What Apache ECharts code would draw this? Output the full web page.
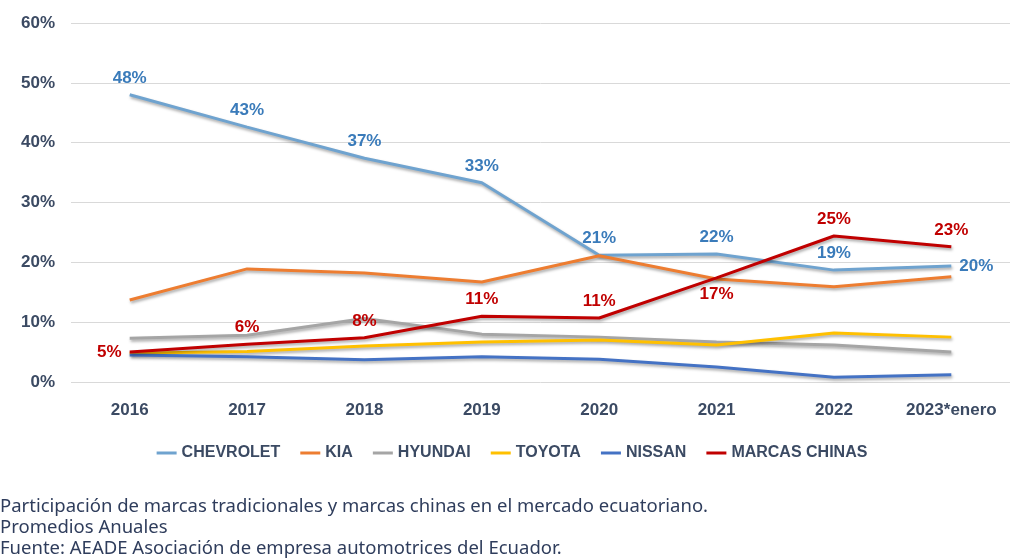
<!DOCTYPE html>
<html><head><meta charset="utf-8">
<script src="https://cdn.jsdelivr.net/npm/echarts@6/dist/echarts.min.js"></script>
<style>html,body{margin:0;padding:0;background:#fff}#c{width:1024px;height:558px}</style>
</head><body><div id="c"></div>
<script>
const categories = ['2016','2017','2018','2019','2020','2021','2022','2023*enero'];
const chevrolet = [48.0, 42.6, 37.4, 33.3, 21.2, 21.4, 18.7, 19.4];
const kia       = [13.7, 18.9, 18.2, 16.7, 21.1, 17.2, 15.9, 17.6];
const hyundai   = [7.3, 7.8, 10.6, 8.0, 7.5, 6.7, 6.2, 5.0];
const toyota    = [4.8, 5.1, 6.0, 6.7, 7.0, 6.2, 8.2, 7.5];
const nissan    = [4.5, 4.2, 3.7, 4.2, 3.8, 2.5, 0.8, 1.2];
const chinas    = [5.0, 6.3, 7.4, 11.0, 10.7, 17.4, 24.4, 22.6];
const chevroletLabels = ['48%','43%','37%','33%','21%','22%','19%','20%'];
const chinasLabels = ['5%','6%','8%','11%','11%','17%','25%','23%'];
const yTicks = [0,10,20,30,40,50,60];
const footer = ['Participación de marcas tradicionales y marcas chinas en el mercado ecuatoriano.','Promedios Anuales','Fuente: AEADE Asociación de empresa automotrices del Ecuador.'];

const navy = '#3B4A63';
const shadow = {shadowColor:'rgba(0,0,0,0.35)', shadowBlur:3, shadowOffsetX:1, shadowOffsetY:2};
function line(name, data, color, extra) {
  return Object.assign({
    name, type:'line', data, symbol:'circle', symbolSize:0.1, showSymbol:true, smooth:false,
    lineStyle: Object.assign({color, width:3}, shadow),
    itemStyle:{color}, z:2, emphasis:{disabled:true}
  }, extra || {});
}
const chevPos = ['top','top','top','top','top','top','top','right'];
const chinaPos = ['left','top','top','top','top','bottom','top','top'];
const lblFont = 'Liberation Sans, Arial, sans-serif';
const chart = echarts.init(document.getElementById('c'));
chart.setOption({
  animation:false,
  grid:{left:71, right:14, top:23, bottom:176},
  legend:{
    bottom:92, left:'center', itemWidth:20, itemHeight:3, itemGap:20,
    icon:'rect',
    textStyle:{color:navy, fontSize:16, fontWeight:'bold', fontFamily:'Liberation Sans Narrow, Arial Narrow, sans-serif'},
    data:['CHEVROLET','KIA','HYUNDAI','TOYOTA','NISSAN','MARCAS CHINAS']
  },
  xAxis:{
    type:'category', data:categories, boundaryGap:true,
    axisLine:{show:false}, axisTick:{show:false},
    axisLabel:{interval:0, color:navy, fontSize:17, fontWeight:'bold', margin:20, fontFamily:lblFont}
  },
  yAxis:{
    type:'value', min:0, max:60, interval:10,
    axisLine:{show:false}, axisTick:{show:false},
    splitLine:{lineStyle:{color:'#D9D9D9', width:1}},
    axisLabel:{color:navy, fontSize:17, fontWeight:'bold', margin:16, formatter: v => v + '%', fontFamily:lblFont}
  },
  graphic: footer.map((t,i)=>({type:'text', left:0, top:497 + i*21, style:{text:t, fill:'#2F3D5C', font:'18.5px "Noto Sans", sans-serif'}})),
  series:[
    line('CHEVROLET', chevrolet.map((v,i)=>({value:v, label:{position:chevPos[i]}})), '#6FA3CF', {
      label:{show:true, formatter:p=>chevroletLabels[p.dataIndex], color:'#3A7BBA', fontSize:17, fontWeight:'bold', distance:8, fontFamily:lblFont}
    }),
    line('KIA', kia, '#ED7D31'),
    line('HYUNDAI', hyundai, '#A5A5A5'),
    line('TOYOTA', toyota, '#FFC000'),
    line('NISSAN', nissan, '#4472C4'),
    line('MARCAS CHINAS', chinas.map((v,i)=>({value:v, label:{position:chinaPos[i]}})), '#C00000', {
      z:3,
      label:{show:true, formatter:p=>chinasLabels[p.dataIndex], color:'#C00000', fontSize:17, fontWeight:'bold', distance:8, fontFamily:lblFont}
    })
  ]
});
</script></body></html>
